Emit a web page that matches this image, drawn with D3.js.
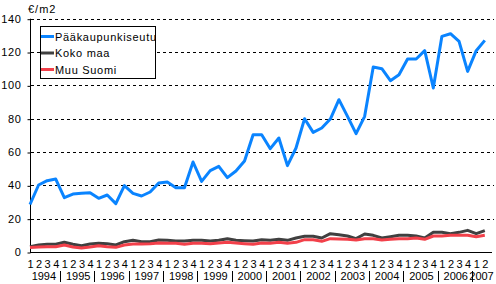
<!DOCTYPE html>
<html>
<head>
<meta charset="utf-8">
<script src="https://cdn.jsdelivr.net/npm/d3@7"></script>
<style>
  html, body { margin: 0; padding: 0; background: #fff; }
  svg { display: block; font-family: "Liberation Sans", Arial, sans-serif; }
</style>
</head>
<body>
<svg id="chart" width="496" height="284"></svg>
<script>
const years = ["1994","1995","1996","1997","1998","1999","2000","2001","2002","2003","2004","2005","2006","2007"];
const quarters = ["1","2","3","4"];
const seriesNames = ["Pääkaupunkiseutu", "Koko maa", "Muu Suomi"];
const seriesColors = ["#0a84ff", "#404040", "#f2404a"];
const yTicks = [0, 20, 40, 60, 80, 100, 120, 140];
const unitLabel = "€/m2";

const paakaupunkiseutu = [
  28.5, 40.2, 42.8, 43.8, 32.6, 34.8, 35.2, 35.6, 32.2, 34.2, 29.0, 39.8, 35.2, 33.6,
  36.0, 41.4, 42.0, 38.6, 38.6, 54.0, 42.4, 48.8, 51.4, 44.6, 48.6, 54.6, 70.4, 70.4,
  62.0, 68.4, 51.8, 62.4, 80.0, 71.8, 74.4, 79.8, 91.4, 81.4, 71.0, 81.4, 111.0, 110.0,
  102.8, 106.4, 115.8, 115.8, 120.8, 98.4, 129.4, 131.0, 126.4, 108.4, 120.8, 127.0
];
const kokoMaa = [
  3.2, 4.2, 4.6, 4.6, 5.8, 4.6, 3.8, 4.8, 5.2, 5.0, 4.2, 6.2, 7.0, 6.2,
  6.2, 7.2, 7.0, 6.6, 6.6, 7.0, 7.0, 6.6, 7.0, 8.0, 7.0, 6.8, 6.6, 7.4,
  7.0, 7.6, 7.0, 8.4, 9.4, 9.4, 8.4, 11.0, 10.3, 9.6, 8.0, 10.8, 10.0, 8.4,
  9.2, 10.0, 10.0, 9.6, 8.4, 11.8, 11.8, 11.0, 11.8, 13.0, 11.0, 12.8
];
const muuSuomi = [
  2.7, 3.0, 3.2, 3.2, 4.2, 3.0, 2.4, 3.0, 3.8, 3.2, 2.8, 4.2, 4.8, 4.8,
  5.0, 5.4, 5.2, 5.2, 4.7, 5.2, 5.2, 5.0, 5.4, 5.8, 5.4, 5.0, 4.6, 5.4,
  5.2, 5.8, 5.2, 5.8, 7.4, 7.4, 6.4, 8.0, 7.8, 7.6, 7.2, 8.0, 8.0, 7.2,
  7.6, 8.0, 8.0, 8.4, 7.6, 9.6, 9.6, 10.0, 10.0, 10.0, 9.2, 10.0
];
const seriesValues = [paakaupunkiseutu, kokoMaa, muuSuomi];

(function () {
const categories = [];
years.forEach(yr => quarters.forEach(q => categories.push({year: yr, q: q})));
categories.length = paakaupunkiseutu.length;

const svg = d3.select("#chart");
const W = 496;
const pLeft = 30, pRight = 484.8, pTop = 18.7, pBottom = 252;

const x = d3.scalePoint().domain(d3.range(categories.length)).range([pLeft, pRight]);
const y = d3.scaleLinear().domain([0, 140]).range([pBottom, pTop]);
const step = x.step();

// gridlines
svg.append("g").selectAll("line").data(yTicks.filter(d => d > 0)).join("line")
  .attr("x1", pLeft + 1).attr("x2", 494)
  .attr("y1", d => Math.round(y(d)) + 0.5).attr("y2", d => Math.round(y(d)) + 0.5)
  .attr("stroke", "#000").attr("stroke-width", 1).attr("stroke-dasharray", "3,3");

// y axis
const yAxis = d3.axisLeft(y).tickValues(yTicks).tickSize(3).tickPadding(6).tickFormat(d3.format("d"));
const yg = svg.append("g").attr("transform", `translate(${pLeft + 0.5},0)`).call(yAxis);
yg.select(".domain").remove();
yg.selectAll(".tick line").attr("stroke", "#000").attr("transform", "translate(0,0.5)");
yg.selectAll(".tick text").attr("font-size", 11).attr("font-family", "Liberation Sans, Arial, sans-serif")
  .attr("fill", "#000").style("letter-spacing", "0.6px");
svg.append("line").attr("x1", pLeft + 0.5).attr("x2", pLeft + 0.5).attr("y1", pTop).attr("y2", pBottom + 0.5)
  .attr("stroke", "#000");

// x axis baseline
svg.append("line").attr("x1", pLeft).attr("x2", 492)
  .attr("y1", Math.round(pBottom) + 0.5).attr("y2", Math.round(pBottom) + 0.5)
  .attr("stroke", "#000").attr("stroke-width", 1.2);

// quarter labels
const xAxis = d3.axisBottom(x).tickSize(0).tickPadding(0).tickFormat(i => categories[i].q);
const xg = svg.append("g").attr("transform", `translate(0,260.5)`).call(xAxis);
xg.select(".domain").remove();
xg.selectAll(".tick text").attr("font-size", 11).attr("font-family", "Liberation Sans, Arial, sans-serif")
  .attr("fill", "#000").attr("dy", "0.71em");

// year labels and separators
const yearGroups = d3.groups(categories.map((c, i) => ({...c, i})), d => d.year);
const yl = svg.append("g");
yearGroups.forEach(([yr, items], gi) => {
  const i0 = items[0].i, i1 = items[items.length - 1].i;
  const cx = (x(i0) + x(i1)) / 2 + 1;
  const t = yl.append("text").attr("x", cx).attr("y", 280).attr("text-anchor", "middle")
    .attr("font-size", 11).attr("fill", "#000").text(yr);
  const w = t.node().getComputedTextLength();
  if (cx + w / 2 > W) t.attr("text-anchor", "end").attr("x", W + 1);
  if (gi < yearGroups.length - 1) {
    const sx = Math.round(x(i1) + step / 2) + 0.5;
    yl.append("line").attr("x1", sx).attr("x2", sx).attr("y1", 271).attr("y2", 282)
      .attr("stroke", "#000").attr("stroke-width", 1);
  }
});

// unit label
svg.append("text").attr("x", 28).attr("y", 13).attr("font-size", 11).attr("fill", "#000")
  .style("letter-spacing", "1px").text(unitLabel);

// series lines
const line = d3.line().x((d, i) => x(i)).y(d => y(d));
[1, 2, 0].forEach(s => {
  svg.append("path").datum(seriesValues[s]).attr("d", line)
    .attr("fill", "none").attr("stroke", seriesColors[s]).attr("stroke-width", 3)
    .attr("stroke-linejoin", "round");
});

// legend
const lg = svg.append("g");
lg.append("rect").attr("x", 40.5).attr("y", 26.5).attr("width", 115).attr("height", 52)
  .attr("fill", "#fff").attr("stroke", "#000").attr("stroke-width", 1);
seriesNames.forEach((n, i) => {
  const ly = 36.5 + i * 16.5;
  lg.append("line").attr("x1", 41).attr("x2", 54).attr("y1", ly).attr("y2", ly)
    .attr("stroke", seriesColors[i]).attr("stroke-width", 3);
  lg.append("text").attr("x", 55).attr("y", ly + 4).attr("font-size", 11).attr("fill", "#000")
    .style("letter-spacing", "0.7px").text(n);
});
})();
</script>
</body>
</html>
